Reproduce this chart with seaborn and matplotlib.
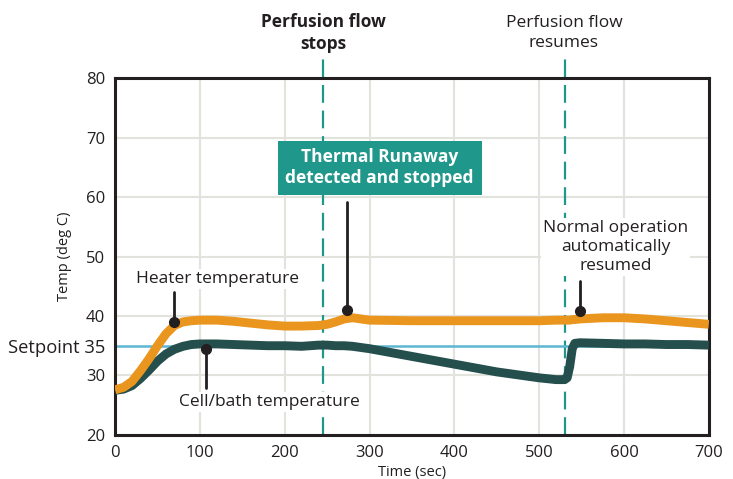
import matplotlib
matplotlib.use("Agg")
import matplotlib.pyplot as plt
import seaborn as sns
import pandas as pd

sns.set_style("white")
plt.rcParams["font.family"] = ["Open Sans", "DejaVu Sans"]

# values
time_sec = [0, 10, 20, 30, 40, 50, 60, 70, 80, 90, 100, 120, 140, 160, 180, 200,
            220, 240, 250, 260, 270, 280, 290, 300, 350, 400, 450, 500, 520, 530,
            533, 536, 539, 542, 548, 575, 600, 625, 650, 675, 700]
heater_temp = [27.6, 28.0, 29.0, 30.8, 32.8, 35.0, 37.0, 38.4, 39.0, 39.2, 39.3, 39.3,
               39.1, 38.8, 38.5, 38.3, 38.3, 38.4, 38.6, 39.0, 39.5, 39.7, 39.5, 39.3,
               39.2, 39.2, 39.2, 39.2, 39.3, 39.3, 39.3, 39.3, 39.4, 39.4, 39.5, 39.7,
               39.7, 39.5, 39.2, 38.9, 38.6]
cell_temp = [27.5, 27.7, 28.3, 29.5, 30.9, 32.4, 33.6, 34.4, 34.9, 35.2, 35.3, 35.3,
             35.2, 35.1, 35.0, 35.0, 34.9, 35.1, 35.1, 35.0, 35.0, 34.9, 34.7, 34.5,
             33.2, 31.9, 30.6, 29.6, 29.3, 29.3, 29.6, 31.5, 34.5, 35.4, 35.5, 35.4,
             35.3, 35.3, 35.2, 35.2, 35.1]
setpoint = 35
stop_time = 245
resume_time = 531
y_ticks = [20, 30, 35, 40, 50, 60, 70, 80]
y_tick_labels = ["20", "30", "Setpoint 35", "40", "50", "60", "70", "80"]
x_ticks = [0, 100, 200, 300, 400, 500, 600, 700]

df = pd.DataFrame({"time": time_sec, "heater": heater_temp, "cell": cell_temp})

orange = "#E9951E"
dark = "#244F4D"
teal = "#1F978A"
ink = "#231F20"

fig = plt.figure(figsize=(7.33, 4.79), dpi=100)
ax = fig.add_axes([0.157, 0.092, 0.81, 0.745])

ax.axhline(setpoint, color="#5DB7D3", lw=1.8, zorder=2)
sns.lineplot(data=df, x="time", y="heater", ax=ax, color=orange, lw=6.4,
             solid_capstyle="butt", zorder=4)
sns.lineplot(data=df, x="time", y="cell", ax=ax, color=dark, lw=6.4,
             solid_capstyle="butt", zorder=3)

for t in [stop_time, resume_time]:
    ax.plot([t, t], [20, 83.4], color=teal, lw=1.6, ls=(0, (8, 3.5)),
            clip_on=False, zorder=1)

ax.set_xlim(0, 700)
ax.set_ylim(20, 80)
ax.set_xticks(x_ticks)
ax.set_yticks(y_ticks)
ax.set_yticklabels(y_tick_labels)
ax.tick_params(length=0, labelsize=12, colors=ink, pad=7)
for lab in ax.get_yticklabels():
    if lab.get_text().startswith("Setpoint"):
        lab.set_fontsize(13.2)
ax.grid(True, color="#E3E3DD", lw=1.5)
ax.yaxis.get_gridlines()[2].set_visible(False)
for s in ax.spines.values():
    s.set_color(ink)
    s.set_linewidth(2.2)
ax.set_xlabel("Time (sec)", fontsize=10.5, color=ink, labelpad=3)
ax.set_ylabel("Temp (deg C)", fontsize=10.5, color=ink)
ax.yaxis.set_label_coords(-0.072, 0.5)

white_box = dict(boxstyle="square,pad=0.1", fc="white", ec="none")

# annotations
def pin(x, y, y_end):
    ax.plot([x, x], [y, y_end], color=ink, lw=2, zorder=5, clip_on=False)
    ax.plot([x], [y], "o", color=ink, ms=7, zorder=6, clip_on=False)

pin(70, 39.0, 44.0)
ax.text(121, 46.2, "Heater temperature", ha="center", va="center", fontsize=12.5,
        color=ink, bbox=white_box, zorder=5)
pin(107, 34.5, 27.9)
ax.text(182, 25.5, "Cell/bath temperature", ha="center", va="center", fontsize=12.5,
        color=ink, bbox=white_box, zorder=5)
pin(273, 41.0, 59.2)
ax.text(312, 64.9, "Thermal Runaway\ndetected and stopped", ha="center", va="center",
        fontsize=12.5, fontweight="bold", color="white", linespacing=1.2, zorder=5,
        bbox=dict(boxstyle="square,pad=0.45", fc=teal, ec="none"))
pin(548, 40.8, 45.8)
ax.text(590, 51.6, "Normal operation\nautomatically\nresumed", ha="center", va="center",
        fontsize=12.5, color=ink, linespacing=1.25, bbox=white_box, zorder=5)

fig.text(323 / 733, 1 - 33 / 479, "Perfusion flow\nstops", ha="center", va="center",
         fontsize=12.5, fontweight="bold", color=ink, linespacing=1.3)
fig.text(564 / 733, 1 - 33 / 479, "Perfusion flow\nresumes", ha="center", va="center",
         fontsize=12.5, color=ink, linespacing=1.3)

fig.savefig("out.png", dpi=100)
